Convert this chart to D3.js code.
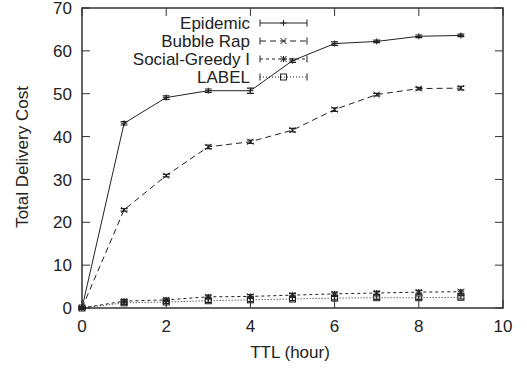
<!DOCTYPE html>
<html><head><meta charset="utf-8">
<script src="https://cdn.jsdelivr.net/npm/d3@7/dist/d3.min.js"></script>
<style>body{margin:0;background:#fff}svg{display:block}text{font-family:"Liberation Sans",Arial,sans-serif;fill:#222}</style>
</head><body><svg id="c" width="527" height="368"></svg>
<script>
const ttl = [0,1,2,3,4,5,6,7,8,9];
const epidemic = [0,43.1,49.1,50.7,50.7,57.7,61.7,62.2,63.4,63.6];
const bubbleRap = [0,22.9,30.9,37.6,38.8,41.5,46.3,49.8,51.2,51.3];
const socialGreedy = [0,1.6,1.9,2.6,2.7,3.0,3.3,3.5,3.7,3.8];
const label = [0,1.2,1.4,1.7,1.9,2.1,2.3,2.4,2.4,2.5];
const errEpidemic = [0.3,0.4,0.4,0.4,0.6,0.4,0.4,0.3,0.3,0.3];
const errBubble = [0.3,0.3,0.3,0.4,0.4,0.4,0.4,0.3,0.3,0.4];
const errSocial = [0.2,0.4,0.4,0.4,0.4,0.4,0.4,0.4,0.4,0.4];
const errLabel = [0.2,0.4,0.4,0.4,0.4,0.4,0.4,0.4,0.4,0.4];
const seriesNames = ["Epidemic","Bubble Rap","Social-Greedy I","LABEL"];
const xTicks = [0,2,4,6,8,10];
const yTicks = [0,10,20,30,40,50,60,70];

const series = [
  {name:seriesNames[0], v:epidemic, e:errEpidemic, dash:null, mk:"plus"},
  {name:seriesNames[1], v:bubbleRap, e:errBubble, dash:"6,4", mk:"cross"},
  {name:seriesNames[2], v:socialGreedy, e:errSocial, dash:"3,3", mk:"star"},
  {name:seriesNames[3], v:label, e:errLabel, dash:"1,2", mk:"square"}
];

const L=82, R=503, T=8, B=308;
const x = d3.scaleLinear().domain([0,10]).range([L,R]);
const y = d3.scaleLinear().domain([0,70]).range([B,T]);
const svg = d3.select("#c");
const col = "#222";

// frame
svg.append("rect").attr("x",L).attr("y",T).attr("width",R-L).attr("height",B-T)
  .attr("fill","none").attr("stroke","#333").attr("stroke-width",1.5);

const tl = 8;
// x ticks (inward, mirrored)
const gx = svg.append("g");
xTicks.forEach(t=>{
  gx.append("line").attr("x1",x(t)).attr("x2",x(t)).attr("y1",B).attr("y2",B-tl).attr("stroke","#333");
  gx.append("line").attr("x1",x(t)).attr("x2",x(t)).attr("y1",T).attr("y2",T+tl).attr("stroke","#333");
  gx.append("text").attr("x",x(t)).attr("y",332).attr("text-anchor","middle").attr("font-size",17).text(t);
});
const gy = svg.append("g");
yTicks.forEach(t=>{
  gy.append("line").attr("x1",L).attr("x2",L+tl).attr("y1",y(t)).attr("y2",y(t)).attr("stroke","#333");
  gy.append("line").attr("x1",R).attr("x2",R-tl).attr("y1",y(t)).attr("y2",y(t)).attr("stroke","#333");
  gy.append("text").attr("x",72).attr("y",y(t)).attr("dy","0.36em").attr("text-anchor","end").attr("font-size",17).text(t);
});

svg.append("text").attr("x",290).attr("y",358).attr("text-anchor","middle").attr("font-size",17).text("TTL (hour)");
svg.append("text").attr("transform","translate(28,157) rotate(-90)").attr("text-anchor","middle").attr("font-size",17).text("Total Delivery Cost");

function marker(g, mk, cx, cy){
  const s=3;
  if(mk==="plus"){
    g.append("path").attr("d",`M${cx-s},${cy}H${cx+s}M${cx},${cy-s}V${cy+s}`).attr("stroke",col).attr("fill","none");
  } else if(mk==="cross"){
    g.append("path").attr("d",`M${cx-s},${cy-s}L${cx+s},${cy+s}M${cx-s},${cy+s}L${cx+s},${cy-s}`).attr("stroke",col).attr("fill","none");
  } else if(mk==="star"){
    g.append("path").attr("d",`M${cx-s},${cy}H${cx+s}M${cx},${cy-s}V${cy+s}M${cx-s},${cy-s}L${cx+s},${cy+s}M${cx-s},${cy+s}L${cx+s},${cy-s}`).attr("stroke",col).attr("fill","none");
  } else {
    g.append("rect").attr("x",cx-3).attr("y",cy-3).attr("width",6).attr("height",6).attr("stroke",col).attr("fill","none");
  }
}

const line = d3.line().x((d,i)=>x(ttl[i])).y(d=>y(d));
series.forEach(s=>{
  const g = svg.append("g");
  g.append("path").attr("d",line(s.v)).attr("fill","none").attr("stroke",col).attr("stroke-width",1)
    .attr("stroke-dasharray",s.dash);
  s.v.forEach((v,i)=>{
    const cx=x(ttl[i]), y1=y(v-s.e[i]), y2=y(v+s.e[i]);
    g.append("path").attr("d",`M${cx},${y1}V${y2}M${cx-3.5},${y1}H${cx+3.5}M${cx-3.5},${y2}H${cx+3.5}`)
      .attr("stroke",col).attr("fill","none").attr("stroke-width",1.2);
    marker(g,s.mk,cx,y(v));
  });
});

// legend
const lg = svg.append("g");
series.forEach((s,i)=>{
  const ly = 23 + i*18;
  lg.append("text").attr("x",250).attr("y",ly).attr("dy","0.36em").attr("text-anchor","end").attr("font-size",17).text(s.name);
  lg.append("line").attr("x1",260).attr("x2",307).attr("y1",ly).attr("y2",ly).attr("stroke",col).attr("stroke-dasharray",s.dash);
  lg.append("path").attr("d",`M260,${ly-3.5}V${ly+3.5}M307,${ly-3.5}V${ly+3.5}`).attr("stroke",col);
  marker(lg,s.mk,283.5,ly);
});
</script></body></html>
